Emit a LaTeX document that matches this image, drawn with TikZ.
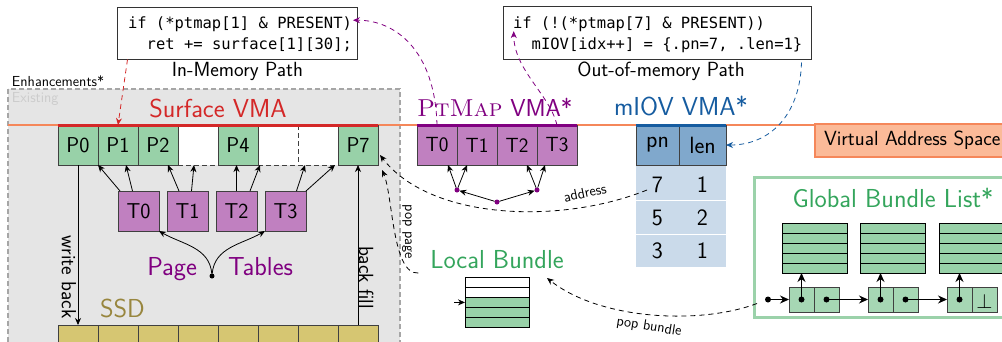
\documentclass[tikz,border=0pt]{standalone}
\usepackage{fontspec}
\setmonofont{DejaVu Sans Mono}
\usetikzlibrary{arrows.meta,calc}

\definecolor{cellgreen}{RGB}{152,209,168}
\definecolor{nodegreen}{RGB}{166,215,180}
\definecolor{pagepurple}{RGB}{192,128,192}
\definecolor{ptpurple}{RGB}{128,0,128}
\definecolor{vmared}{RGB}{212,40,40}
\definecolor{miovblue}{RGB}{22,92,160}
\definecolor{miovhead}{RGB}{128,168,204}
\definecolor{miovrow}{RGB}{202,218,234}
\definecolor{ssdfill}{RGB}{214,198,114}
\definecolor{ssdtext}{RGB}{152,134,62}
\definecolor{vasline}{RGB}{245,135,90}
\definecolor{vasfill}{RGB}{251,186,152}
\definecolor{existgray}{RGB}{229,229,229}
\definecolor{bundlegreen}{RGB}{52,165,92}
\definecolor{gblborder}{RGB}{155,210,170}

\newcommand{\fsz}[1]{\fontsize{#1}{#1}\selectfont}

\begin{document}
\begin{tikzpicture}[x=1pt,y=-1pt,
  every node/.style={inner sep=0pt, outer sep=0pt},
  cellbase/.style={draw=black!75, line width=0.8pt, anchor=north west, minimum width=40pt, minimum height=40pt},
  pcell/.style={cellbase, fill=cellgreen, font=\sffamily\fsz{21.5}},
  ecell/.style={cellbase, fill=white, dash pattern=on 5pt off 3pt},
  tcell/.style={cellbase, fill=pagepurple, minimum width=41pt, font=\sffamily\fsz{21.5}},
  pmcell/.style={cellbase, fill=pagepurple, font=\sffamily\fsz{20.5}},
  ssdcell/.style={cellbase, fill=ssdfill},
  hcell/.style={cellbase, fill=miovhead, font=\sffamily\fsz{23.5}},
  numtxt/.style={font=\sffamily\fsz{23.5}},
  ttl/.style={font=\sffamily\fsz{26}},
  midlbl/.style={font=\sffamily\fsz{20.5}},
  smalllbl/.style={font=\sffamily\fsz{14.5}},
  codebox/.style={draw=black!80, line width=0.9pt, anchor=north west},
  codeln/.style={font=\ttfamily\fsz{15.5}, anchor=base west},
  arr/.style={line width=0.8pt, -{Stealth[length=7pt,width=6pt]}},
  dasharr/.style={arr, dash pattern=on 5pt off 4pt},
  pdot/.style={circle, fill=ptpurple, minimum size=5pt},
  ldot/.style={circle, fill=black, minimum size=6pt},
  srow/.style={draw=black, line width=0.8pt, fill=cellgreen, anchor=north west, minimum width=65pt, minimum height=10pt},
  lnode/.style={draw=black!75, line width=0.8pt, fill=nodegreen, anchor=north west, minimum width=25pt, minimum height=25pt},
  larr/.style={line width=0.9pt, -{Stealth[length=9pt,width=8pt]}}
]
\useasboundingbox (0,0) rectangle (1002,341);

% region of the existing kernel parts
\fill[existgray] (8,89) rectangle (400,345);
\draw[black!35, line width=1.2pt, dash pattern=on 5pt off 3pt] (8,89) rectangle (400,345);
\node[font=\sffamily\fsz{14.5}, anchor=base west] (enh) at (12,86) {Enhancements*};
\node[font=\sffamily\fsz{14.5}, anchor=base west, text=black!20] (exist) at (12,102) {Existing};

% virtual address space line and tag
\draw[vasline, line width=1.2pt] (8,125) -- (1002,125);
\node[draw=vasline, fill=vasfill, line width=1.2pt, anchor=north west, minimum width=200pt, minimum height=33pt] (vas) at (815,124) {};
\node[font=\sffamily\fsz{20.5}, anchor=base west] (vastxt) at (824,145) {Virtual Address Space};

% code snippets
\node[codebox, minimum width=240pt, minimum height=52pt] (imbox) at (117.5,7.5) {};
\node[codeln] (im1) at (128,28) {if (*ptmap[1] \& PRESENT)};
\node[codeln] (im2) at (146.7,49) {ret += surface[1][30];};
\node[midlbl, anchor=base] (imlbl) at (237.5,76) {In-Memory Path};

\node[codebox, minimum width=308pt, minimum height=53pt] (oombox) at (503.5,6.5) {};
\node[codeln] (oom1) at (513,28) {if (!(*ptmap[7] \& PRESENT))};
\node[codeln] (oom2) at (531.7,49) {mIOV[idx++] = \{.pn=7, .len=1\}};
\node[midlbl, anchor=base] (oomlbl) at (661,76) {Out-of-memory Path};

% surface VMA pages
\node[ttl, text=vmared, anchor=base] (svma) at (218,117) {Surface VMA};
\node[ecell] (E3) at (178,125) {};
\node[ecell] (E5) at (258,125) {};
\node[ecell] (E6) at (298,125) {};
\node[pcell] (P0) at (58,125) {P0};
\node[pcell] (P1) at (98,125) {P1};
\node[pcell] (P2) at (138,125) {P2};
\node[pcell] (P4) at (218,125) {P4};
\node[pcell] (P7) at (338,125) {P7};
\draw[vmared, line width=3pt] (P0.north west) -- (P7.north east);

% page tables
\node[tcell] (T0) at (118,191) {T0};
\node[tcell] (T1) at (167,191) {T1};
\node[tcell] (T2) at (216,191) {T2};
\node[tcell] (T3) at (265,191) {T3};
\draw[arr] ([xshift=2pt]T0.north west) -- (P0.south east);
\draw[arr] ([xshift=-6pt]T0.north) -- ([xshift=8pt]P1.south);
\draw[arr] ([xshift=-8.5pt]T1.north) -- ([xshift=10pt]P2.south);
\draw[arr] ([xshift=4pt]T1.north) -- ([xshift=-4pt]E3.south);
\draw[arr] (T2.north) -- ([xshift=-1.5pt]P4.south);
\draw[arr] ([xshift=13.5pt]T2.north) -- ([xshift=2pt]E5.south west);
\draw[arr] ([xshift=11pt]T3.north) -- ([xshift=-13pt]E6.south);
\draw[arr] (T3.north east) -- ([xshift=-3pt]P7.south west);

\node[ttl, text=ptpurple, anchor=base east] (pglbl) at (197,275) {Page};
\node[ttl, text=ptpurple, anchor=base west] (tblbl) at (228,275) {Tables};
\node[circle, fill=black, minimum size=5pt] (ptdot) at (212,276) {};
\draw[arr] (ptdot) to[out=95, in=-30] (T0.south east);
\draw[arr] (ptdot) to[out=85, in=210] (T3.south west);

% SSD
\node[ttl, text=ssdtext, anchor=base west] (ssdlbl) at (100,317) {SSD};
\foreach \i in {0,...,7}
  \node[ssdcell] (s\i) at (58+40*\i,325) {};
\draw[arr] (P0.south) -- (s0.north);
\draw[arr] (s7.north) -- (P7.south);
\node[midlbl, rotate=-90, anchor=north] (wb) at (76,277) {write back};
\node[midlbl, rotate=-90, anchor=south] (bf) at (359,277.5) {back fill};

% PtMap VMA
\node[font=\sffamily\fsz{24.5}, text=ptpurple, anchor=base west] (pvma) at (417,116) {{\rmfamily\scshape PtMap} VMA*};
\node[pmcell] (pm0) at (417,125) {T0};
\node[pmcell] (pm1) at (457,125) {T1};
\node[pmcell] (pm2) at (497,125) {T2};
\node[pmcell] (pm3) at (537,125) {T3};
\draw[ptpurple, line width=3pt] (pm0.north west) -- (pm3.north east);
\node[pdot] (dl) at (457,190) {};
\node[pdot] (dc) at (497,202) {};
\node[pdot] (dr) at (537,190) {};
\draw[arr] (dl) -- ([xshift=-9pt]pm0.south east);
\draw[arr] (dl) -- ([xshift=10pt]pm1.south west);
\draw[arr] (dr) -- ([xshift=-10pt]pm2.south east);
\draw[arr] (dr) -- ([xshift=8pt]pm3.south west);
\draw[arr] (dc) -- (dl);
\draw[arr] (dc) -- (dr);

% mIOV VMA
\node[ttl, text=miovblue, anchor=base] (mvma) at (681,115) {mIOV VMA*};
\node[hcell, minimum width=43pt] (hpn) at (636,125) {pn};
\node[hcell, minimum width=47pt] (hlen) at (679,125) {len};
\draw[miovblue, line width=3pt] (hpn.north west) -- (hlen.north east);
\node[fill=miovrow, anchor=north west, minimum width=90pt, minimum height=101pt] (mtab) at (636,166) {};
\draw[white, line width=1.5pt] ($(mtab.north west)+(0,34.5)$) -- ($(mtab.north east)+(0,34.5)$);
\draw[white, line width=1.5pt] ($(mtab.north west)+(0,68.5)$) -- ($(mtab.north east)+(0,68.5)$);
\node[numtxt] (pn1) at (657.5,184.5) {7};
\node[numtxt] (ln1) at (702.5,184.5) {1};
\node[numtxt] (pn2) at (657.5,217.5) {5};
\node[numtxt] (ln2) at (702.5,217.5) {2};
\node[numtxt] (pn3) at (657.5,251) {3};
\node[numtxt] (ln3) at (702.5,251) {1};

% local bundle
\node[ttl, text=bundlegreen, anchor=base] (lbt) at (497,268) {Local Bundle};
\foreach \i/\c in {0/white,1/white,2/cellgreen,3/cellgreen,4/cellgreen}
  \node[srow, fill=\c, minimum width=64pt] (lb\i) at (465,277+10.2*\i) {};
\draw[arr] ($(lb2.west)+(-11,0)$) -- (lb2.west);

% global bundle list
\node[draw=gblborder, line width=3pt, anchor=north west, minimum width=262pt, minimum height=140pt] (gbl) at (754.5,177.5) {};
\node[ttl, text=bundlegreen, anchor=base] (gblt) at (893,207) {Global Bundle List*};
\foreach \k/\x in {1/782,2/860,3/939}
  \foreach \i in {0,...,4}
    \node[srow] (st\k-\i) at (\x,223+10*\i) {};
\node[lnode] (n1a) at (789,287) {};
\node[lnode] (n1b) at (814,287) {};
\node[lnode] (n2a) at (868,287) {};
\node[lnode] (n2b) at (893,287) {};
\node[lnode] (n3a) at (947,287) {};
\node[lnode] (n3b) at (972,287) {};
\node[ldot] (head) at (768,299.5) {};
\node[ldot] (d1a) at (n1a.center) {};
\node[ldot] (d1b) at (n1b.center) {};
\node[ldot] (d2a) at (n2a.center) {};
\node[ldot] (d2b) at (n2b.center) {};
\node[ldot] (d3a) at (n3a.center) {};
\node[font=\fsz{22}] (nil) at ($(n3b.center)+(0,2)$) {$\bot$};
\draw[larr] (head) -- (n1a.west);
\draw[larr] (d1a.center) -- (d1a.center |- st1-4.south);
\draw[larr] (d2a.center) -- (d2a.center |- st2-4.south);
\draw[larr] (d3a.center) -- (d3a.center |- st3-4.south);
\draw[larr] (d1b.center) -- (n2a.west);
\draw[larr] (d2b.center) -- (n3a.west);

% dashed flows
\draw[dasharr, vmared] ($(imbox.south west)+(10,0)$) -- (P1.north);
\draw[dasharr, ptpurple] (pm0.north) .. controls (435,50) and (395,20) .. ($(im1.north east)+(1,4)$);
\draw[dasharr, ptpurple] (pm3.north) .. controls (550,95) and (514,70) .. ($(oom2.north west)+(-18,-6)$);
\draw[dasharr, miovblue] ($(oombox.south east)+(-10,3)$) .. controls (800,115) and (770,145) .. (hlen.east);
\draw[dasharr] ($(mtab.north west)+(11,24)$) .. controls (560,225) and (430,220) .. ($(P7.east)+(2,10)$);
\node[smalllbl, rotate=12] (addr) at (585,193) {address};
\draw[dasharr] ($(lbt.base west)+(-12,5)$) .. controls (392,275) and (393,195) .. ($(P7.south east)+(4,5)$);
\node[smalllbl, rotate=-90] (popp) at (407,232) {pop page};
\draw[dasharr] ($(head)+(-11,4)$) .. controls (700,325) and (600,320) .. ($(lb0.north east)+(18,1)$);
\node[smalllbl, rotate=-9] (popb) at (649,327) {pop bundle};
\end{tikzpicture}
\end{document}
